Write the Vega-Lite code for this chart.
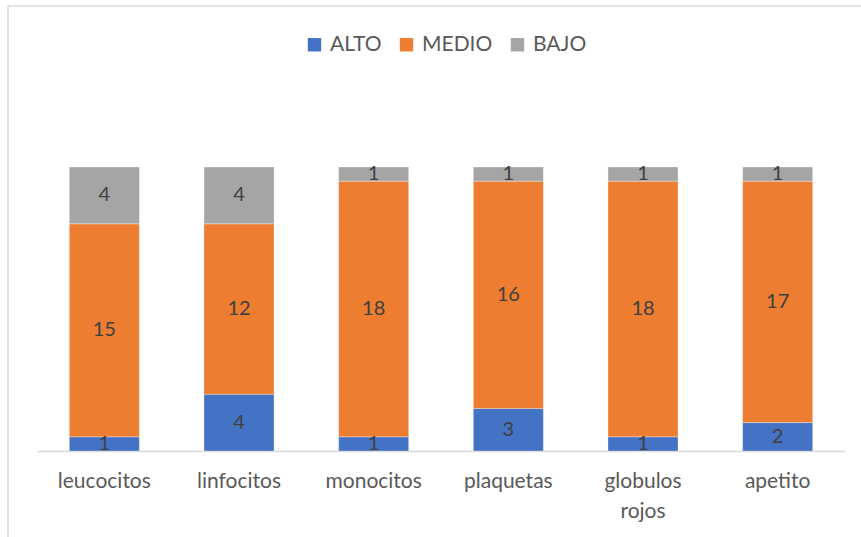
{
  "$schema": "https://vega.github.io/schema/vega-lite/v6.json",
  "autosize": "none",
  "width": 862,
  "height": 540,
  "padding": {"left": 8, "top": 6, "right": 0, "bottom": 0},
  "background": "#ffffff",
  "config": {
    "view": {"stroke": "#D9D9D9", "strokeWidth": 1.5},
    "font": "Lato",
    "axis": {"labelFont": "Lato", "titleFont": "Lato"},
    "legend": {"labelFont": "Lato"}
  },
  "data": {
    "values": [
      {"cat": "leucocitos", "nivel": "ALTO", "o": 1, "v": 1},
      {"cat": "leucocitos", "nivel": "MEDIO", "o": 2, "v": 15},
      {"cat": "leucocitos", "nivel": "BAJO", "o": 3, "v": 4},
      {"cat": "linfocitos", "nivel": "ALTO", "o": 1, "v": 4},
      {"cat": "linfocitos", "nivel": "MEDIO", "o": 2, "v": 12},
      {"cat": "linfocitos", "nivel": "BAJO", "o": 3, "v": 4},
      {"cat": "monocitos", "nivel": "ALTO", "o": 1, "v": 1},
      {"cat": "monocitos", "nivel": "MEDIO", "o": 2, "v": 18},
      {"cat": "monocitos", "nivel": "BAJO", "o": 3, "v": 1},
      {"cat": "plaquetas", "nivel": "ALTO", "o": 1, "v": 3},
      {"cat": "plaquetas", "nivel": "MEDIO", "o": 2, "v": 16},
      {"cat": "plaquetas", "nivel": "BAJO", "o": 3, "v": 1},
      {"cat": "globulos rojos", "nivel": "ALTO", "o": 1, "v": 1},
      {"cat": "globulos rojos", "nivel": "MEDIO", "o": 2, "v": 18},
      {"cat": "globulos rojos", "nivel": "BAJO", "o": 3, "v": 1},
      {"cat": "apetito", "nivel": "ALTO", "o": 1, "v": 2},
      {"cat": "apetito", "nivel": "MEDIO", "o": 2, "v": 17},
      {"cat": "apetito", "nivel": "BAJO", "o": 3, "v": 1}
    ]
  },
  "transform": [
    {"stack": "v", "groupby": ["cat"], "sort": [{"field": "o", "order": "ascending"}], "as": ["y0", "y1"]},
    {"calculate": "(datum.y0 + datum.y1) / 2", "as": "ym"}
  ],
  "encoding": {
    "x": {
      "field": "cat",
      "type": "nominal",
      "sort": ["leucocitos", "linfocitos", "monocitos", "plaquetas", "globulos rojos", "apetito"],
      "scale": {"paddingInner": 0.48, "paddingOuter": 0.24, "range": [29, 837]},
      "axis": {
        "title": null,
        "labelAngle": 0,
        "labelFontSize": 21,
        "labelColor": "#595959",
        "labelPadding": 19,
        "labelLineHeight": 30,
        "labelExpr": "datum.label == 'globulos rojos' ? ['globulos', 'rojos'] : datum.label",
        "ticks": false,
        "domainColor": "#D9D9D9",
        "domainWidth": 1.5,
        "grid": false,
        "offset": -95
      }
    }
  },
  "layer": [
    {
      "mark": {"type": "bar", "stroke": "#ffffff", "strokeWidth": 0.5, "strokeOpacity": 0.6},
      "encoding": {
        "y": {"field": "y0", "type": "quantitative", "scale": {"domain": [0, 25], "range": [445, 90]}, "axis": null},
        "y2": {"field": "y1"},
        "color": {
          "field": "nivel",
          "type": "nominal",
          "scale": {"domain": ["ALTO", "MEDIO", "BAJO"], "range": ["#4472C4", "#ED7D31", "#A5A5A5"]},
          "legend": {
            "title": null,
            "orient": "none",
            "direction": "horizontal",
            "legendX": 296,
            "legendY": 28,
            "symbolType": "square",
            "symbolSize": 180,
            "symbolStrokeWidth": 0,
            "labelFontSize": 21,
            "labelColor": "#595959",
            "columnPadding": 14,
            "labelOffset": 5
          }
        }
      }
    },
    {
      "mark": {"type": "text", "fontSize": 20, "color": "#404040", "baseline": "middle"},
      "encoding": {
        "y": {"field": "ym", "type": "quantitative", "scale": {"domain": [0, 25], "range": [445, 90]}},
        "text": {"field": "v", "type": "quantitative"}
      }
    }
  ]
}
